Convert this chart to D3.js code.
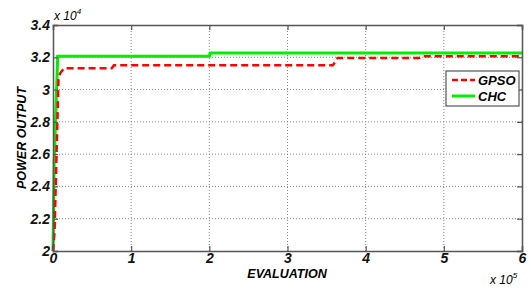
<!DOCTYPE html>
<html>
<head>
<meta charset="utf-8">
<script src="https://cdn.jsdelivr.net/npm/d3@7"></script>
<style>
  body { margin: 0; background: #fff; }
  text { font-family: "Liberation Sans", Arial, sans-serif; }
</style>
</head>
<body>
<svg id="chart"></svg>
<script>
// values in units of evaluations / power output
const xTicks = [0, 1e5, 2e5, 3e5, 4e5, 5e5, 6e5];
const xTickLabels = ['0', '1', '2', '3', '4', '5', '6'];
const yTicks = [20000, 22000, 24000, 26000, 28000, 30000, 32000, 34000];
const yTickLabels = ['2', '2.2', '2.4', '2.6', '2.8', '3', '3.2', '3.4'];
const seriesNames = ['GPSO', 'CHC'];

const gpsoX = [0, 2000, 7000, 9000, 14000, 75000, 78000, 358000, 364000, 468000, 472000, 600000];
const gpsoY = [20000, 21200, 30600, 31000, 31320, 31320, 31500, 31500, 31950, 31950, 32060, 32060];

const chcX = [0, 1500, 6000, 200000, 201000, 600000];
const chcY = [20000, 25500, 32060, 32060, 32260, 32260];

const width = 531, height = 291;
const margin = {top: 25, right: 9, bottom: 40, left: 53};
const iw = width - margin.left - margin.right;
const ih = height - margin.top - margin.bottom;

const svg = d3.select('#chart').attr('width', width).attr('height', height);
const g = svg.append('g').attr('transform', `translate(${margin.left},${margin.top})`);

const xscale = d3.scaleLinear().domain([0, 6e5]).range([0, iw]);
const yscale = d3.scaleLinear().domain([20000, 34000]).range([ih, 0]);

// grid
g.append('g').selectAll('line').data(xTicks.slice(1, -1)).join('line')
  .attr('x1', d => xscale(d)).attr('x2', d => xscale(d))
  .attr('y1', 0).attr('y2', ih)
  .attr('stroke', '#888').attr('stroke-width', 1).attr('stroke-dasharray', '1,2');
g.append('g').selectAll('line').data(yTicks.slice(1, -1)).join('line')
  .attr('y1', d => yscale(d)).attr('y2', d => yscale(d))
  .attr('x1', 0).attr('x2', iw)
  .attr('stroke', '#888').attr('stroke-width', 1).attr('stroke-dasharray', '1,2');

// series
const line = d3.line().x(d => xscale(d[0])).y(d => yscale(d[1]));
const gpso = gpsoX.map((x, i) => [x, gpsoY[i]]);
const chc = chcX.map((x, i) => [x, chcY[i]]);

g.append('path').attr('d', line(chc))
  .attr('fill', 'none').attr('stroke', '#00ee00').attr('stroke-width', 3);
g.append('path').attr('d', line(gpso))
  .attr('fill', 'none').attr('stroke', '#ff0000').attr('stroke-width', 2.5)
  .attr('stroke-dasharray', '7,4');

// axes (MATLAB style: ticks inside, box)
const axisColor = '#555';
const xaxis = d3.axisBottom(xscale).tickValues(xTicks).tickSize(-5).tickPadding(2)
  .tickFormat((d, i) => xTickLabels[i]);
const yaxis = d3.axisLeft(yscale).tickValues(yTicks).tickSize(-5).tickPadding(3)
  .tickFormat((d, i) => yTickLabels[i]);
g.append('g').attr('transform', `translate(0,${ih})`).call(xaxis);
g.append('g').call(yaxis);
g.append('g').call(d3.axisTop(xscale).tickValues(xTicks).tickSize(-5).tickFormat(''));
g.append('g').attr('transform', `translate(${iw},0)`)
  .call(d3.axisRight(yscale).tickValues(yTicks).tickSize(-5).tickFormat(''));

g.selectAll('.domain').attr('stroke', axisColor).attr('stroke-width', 1.5);
g.selectAll('.tick line').attr('stroke', axisColor).attr('stroke-width', 1.2);
g.selectAll('.tick text').attr('fill', '#111')
  .style('font-size', '14px').style('font-weight', 'bold').style('font-style', 'italic');

// axis labels
svg.append('text')
  .attr('x', 287).attr('y', 278)
  .attr('text-anchor', 'middle')
  .style('font-size', '12.5px').style('font-weight', 'bold').style('font-style', 'italic')
  .text('EVALUATION');
svg.append('text')
  .attr('transform', `translate(26,${margin.top + ih / 2}) rotate(-90)`)
  .attr('text-anchor', 'middle')
  .style('font-size', '12.5px').style('font-weight', 'bold').style('font-style', 'italic')
  .text('POWER OUTPUT');

// exponent labels
const e4 = svg.append('text').attr('x', 54).attr('y', 20)
  .style('font-size', '12px').style('font-style', 'italic');
e4.append('tspan').text('x 10');
e4.append('tspan').attr('dy', -6).style('font-size', '8px').text('4');
const e5 = svg.append('text').attr('x', 490).attr('y', 284)
  .style('font-size', '12px').style('font-style', 'italic');
e5.append('tspan').text('x 10');
e5.append('tspan').attr('dy', -6).style('font-size', '8px').text('5');

// legend
const lg = svg.append('g').attr('transform', 'translate(446,71)');
lg.append('rect').attr('width', 73).attr('height', 35)
  .attr('fill', '#fff').attr('stroke', axisColor).attr('stroke-width', 1.2);
const legendStyle = [
  {color: '#ff0000', dash: '6,3', w: 2.5},
  {color: '#00ee00', dash: null, w: 3}
];
seriesNames.forEach((name, i) => {
  const y = 9 + i * 16;
  lg.append('line').attr('x1', 6).attr('x2', 29).attr('y1', y).attr('y2', y)
    .attr('stroke', legendStyle[i].color).attr('stroke-width', legendStyle[i].w)
    .attr('stroke-dasharray', legendStyle[i].dash);
  lg.append('text').attr('x', 32).attr('y', y + 4.5)
    .style('font-size', '13px').style('font-weight', 'bold').style('font-style', 'italic')
    .text(name);
});
</script>
</body>
</html>
